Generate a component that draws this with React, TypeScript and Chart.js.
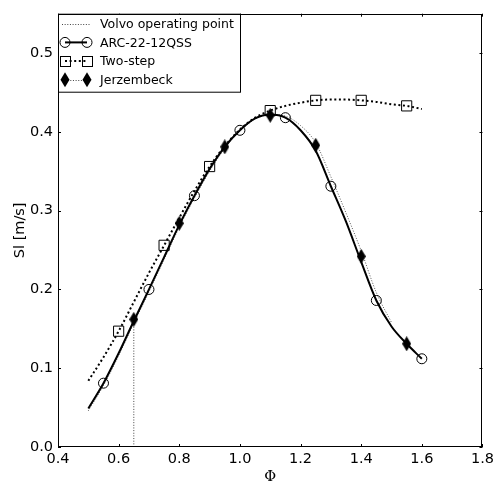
import React, { useEffect, useRef } from "react";
import { Chart, registerables } from "chart.js";

Chart.register(...registerables);

// ---- data ----
const xTickValues = [0.4, 0.6, 0.8, 1.0, 1.2, 1.4, 1.6, 1.8];
const yTickValues = [0.0, 0.1, 0.2, 0.3, 0.4, 0.5];

const volvoPhi = [0.65, 0.65];
const volvoSl = [0.0, 0.162];

const arcPhi = [0.5, 0.55, 0.6, 0.65, 0.7, 0.75, 0.8, 0.85, 0.9, 0.95, 1.0, 1.05, 1.1, 1.15, 1.2, 1.25, 1.3, 1.35, 1.4, 1.45, 1.5, 1.55, 1.6];
const arcSl = [0.049, 0.081, 0.119, 0.16, 0.2, 0.241, 0.282, 0.319, 0.353, 0.381, 0.402, 0.417, 0.422, 0.418, 0.402, 0.376, 0.331, 0.286, 0.235, 0.186, 0.153, 0.131, 0.112];
const arcMarkPhi = [0.55, 0.7, 0.85, 1.0, 1.15, 1.3, 1.45, 1.6];
const arcMarkSl = [0.081, 0.2, 0.319, 0.402, 0.418, 0.331, 0.186, 0.112];

const twoStepPhi = [0.5, 0.55, 0.6, 0.65, 0.7, 0.75, 0.8, 0.85, 0.9, 0.95, 1.0, 1.05, 1.1, 1.15, 1.2, 1.25, 1.3, 1.35, 1.4, 1.45, 1.5, 1.55, 1.6];
const twoStepSl = [0.084, 0.114, 0.147, 0.184, 0.221, 0.256, 0.291, 0.325, 0.356, 0.382, 0.403, 0.418, 0.427, 0.433, 0.437, 0.44, 0.441, 0.441, 0.44, 0.438, 0.435, 0.433, 0.429];
const twoStepMarkPhi = [0.6, 0.75, 0.9, 1.1, 1.25, 1.4, 1.55];
const twoStepMarkSl = [0.147, 0.256, 0.356, 0.427, 0.44, 0.44, 0.433];

const jerzPhi = [0.5, 0.55, 0.6, 0.65, 0.7, 0.75, 0.8, 0.85, 0.9, 0.95, 1.0, 1.05, 1.1, 1.15, 1.2, 1.25, 1.3, 1.35, 1.4, 1.45, 1.5];
const jerzSl = [0.046, 0.078, 0.116, 0.157, 0.197, 0.238, 0.279, 0.316, 0.35, 0.379, 0.401, 0.416, 0.422, 0.42, 0.408, 0.386, 0.343, 0.297, 0.249, 0.196, 0.158];
const jerzMarkPhi = [0.65, 0.8, 0.95, 1.1, 1.25, 1.4, 1.55];
const jerzMarkSl = [0.162, 0.284, 0.381, 0.421, 0.383, 0.242, 0.131];

const legendLabels = ["Volvo operating point", "ARC-22-12QSS", "Two-step", "Jerzembeck"];

const FONT = "'DejaVu Sans', sans-serif";

function pts(xs: number[], ys: number[]) {
  return xs.map((x, i) => ({ x, y: ys[i] }));
}

function makeDiamond(): HTMLCanvasElement {
  const c = document.createElement("canvas");
  c.width = 9;
  c.height = 15;
  const g = c.getContext("2d")!;
  g.fillStyle = "#000";
  g.beginPath();
  g.moveTo(4.5, 0);
  g.lineTo(9, 7.5);
  g.lineTo(4.5, 15);
  g.lineTo(0, 7.5);
  g.closePath();
  g.fill();
  return c;
}

function drawDiamond(ctx: CanvasRenderingContext2D, x: number, y: number) {
  ctx.beginPath();
  ctx.moveTo(x, y - 7.5);
  ctx.lineTo(x + 4.5, y);
  ctx.lineTo(x, y + 7.5);
  ctx.lineTo(x - 4.5, y);
  ctx.closePath();
  ctx.fill();
}

const framePlugin = {
  id: "frameAndLegend",
  afterDraw(chart: any) {
    const { ctx, chartArea } = chart;
    const { left, top, right, bottom } = chartArea;
    ctx.save();
    // inward ticks
    ctx.strokeStyle = "#000";
    ctx.lineWidth = 1;
    const xs = chart.scales.x;
    const ys = chart.scales.y;
    ctx.beginPath();
    xTickValues.forEach((v) => {
      const px = Math.round(xs.getPixelForValue(v)) + 0.5;
      ctx.moveTo(px, bottom);
      ctx.lineTo(px, bottom - 3);
      ctx.moveTo(px, top);
      ctx.lineTo(px, top + 3);
    });
    yTickValues.forEach((v) => {
      const py = Math.round(ys.getPixelForValue(v)) + 0.5;
      ctx.moveTo(left, py);
      ctx.lineTo(left + 3, py);
      ctx.moveTo(right, py);
      ctx.lineTo(right - 3, py);
    });
    ctx.stroke();

    // legend
    const lx = left + 0.5;
    const ly = top + 0.5;
    const lw = 182;
    const lh = 78;
    ctx.fillStyle = "#fff";
    ctx.fillRect(lx, ly, lw, lh);
    ctx.strokeStyle = "#000";
    ctx.lineWidth = 1;
    ctx.strokeRect(lx, ly, lw, lh);

    const sx0 = left + 7;
    const sx1 = left + 29;
    const rowY = (i: number) => top + 10 + i * 18.7;

    // Volvo
    ctx.save();
    ctx.strokeStyle = "#444";
    ctx.lineWidth = 1;
    ctx.setLineDash([1, 1.65]);
    ctx.beginPath();
    ctx.moveTo(sx0 - 3, Math.round(rowY(0)) + 0.5);
    ctx.lineTo(sx1 + 3, Math.round(rowY(0)) + 0.5);
    ctx.stroke();
    ctx.restore();

    // ARC
    ctx.save();
    ctx.strokeStyle = "#000";
    ctx.lineWidth = 2;
    ctx.beginPath();
    ctx.moveTo(sx0, rowY(1));
    ctx.lineTo(sx1, rowY(1));
    ctx.stroke();
    ctx.lineWidth = 1;
    [sx0, sx1].forEach((x) => {
      ctx.beginPath();
      ctx.arc(x, rowY(1), 5, 0, Math.PI * 2);
      ctx.stroke();
    });
    ctx.restore();

    // Two-step
    ctx.save();
    ctx.strokeStyle = "#000";
    ctx.lineWidth = 2;
    ctx.setLineDash([2, 2.6]);
    ctx.beginPath();
    ctx.moveTo(sx0, rowY(2));
    ctx.lineTo(sx1, rowY(2));
    ctx.stroke();
    ctx.setLineDash([]);
    ctx.lineWidth = 1;
    [sx0, sx1].forEach((x) => {
      ctx.strokeRect(Math.round(x - 5) + 0.5, Math.round(rowY(2) - 5) + 0.5, 10, 10);
    });
    ctx.restore();

    // Jerzembeck
    ctx.save();
    ctx.strokeStyle = "#444";
    ctx.lineWidth = 1;
    ctx.setLineDash([1, 1.65]);
    ctx.beginPath();
    ctx.moveTo(sx0, Math.round(rowY(3)) + 0.5);
    ctx.lineTo(sx1, Math.round(rowY(3)) + 0.5);
    ctx.stroke();
    ctx.fillStyle = "#000";
    [sx0, sx1].forEach((x) => drawDiamond(ctx, x, rowY(3)));
    ctx.restore();

    ctx.fillStyle = "#000";
    ctx.font = `12.5px ${FONT}`;
    ctx.textBaseline = "middle";
    ctx.textAlign = "left";
    legendLabels.forEach((t, i) => ctx.fillText(t, left + 42, rowY(i) + 1));

    // frame
    ctx.strokeStyle = "#000";
    ctx.lineWidth = 1;
    ctx.strokeRect(Math.round(left) + 0.5, Math.round(top) + 0.5, Math.round(right - left) - 1, Math.round(bottom - top) - 1);
    ctx.restore();
  },
};

export default function App() {
  const ref = useRef<HTMLCanvasElement | null>(null);

  useEffect(() => {
    if (!ref.current) return;
    const diamond = makeDiamond();
    const chart = new Chart(ref.current, {
      type: "line",
      data: {
        datasets: [
          {
            label: legendLabels[0],
            data: pts(volvoPhi, volvoSl),
            borderColor: "#444",
            borderWidth: 1,
            borderDash: [1, 1.65],
            pointRadius: 0,
            order: 5,
          },
          {
            label: legendLabels[1],
            data: pts(arcPhi, arcSl),
            borderColor: "#000",
            borderWidth: 2,
            pointRadius: 0,
            cubicInterpolationMode: "monotone",
            order: 4,
          },
          {
            label: legendLabels[1] + " markers",
            data: pts(arcMarkPhi, arcMarkSl),
            showLine: false,
            pointStyle: "circle",
            pointRadius: 5,
            pointBorderWidth: 1,
            pointBorderColor: "#000",
            pointBackgroundColor: "rgba(0,0,0,0)",
            order: 4,
          },
          {
            label: legendLabels[2],
            data: pts(twoStepPhi, twoStepSl),
            borderColor: "#000",
            borderWidth: 2,
            borderDash: [2, 2.6],
            pointRadius: 0,
            cubicInterpolationMode: "monotone",
            order: 3,
          },
          {
            label: legendLabels[2] + " markers",
            data: pts(twoStepMarkPhi, twoStepMarkSl),
            showLine: false,
            pointStyle: "rect",
            pointRadius: 7.2,
            pointBorderWidth: 1,
            pointBorderColor: "#000",
            pointBackgroundColor: "rgba(0,0,0,0)",
            order: 3,
          },
          {
            label: legendLabels[3],
            data: pts(jerzPhi, jerzSl),
            borderColor: "#555",
            borderWidth: 1,
            borderDash: [1, 1.65],
            pointRadius: 0,
            cubicInterpolationMode: "monotone",
            order: 6,
          },
          {
            label: legendLabels[3] + " markers",
            data: pts(jerzMarkPhi, jerzMarkSl),
            showLine: false,
            pointStyle: diamond,
            pointRadius: 7,
            order: 2,
          },
        ],
      },
      options: {
        animation: false,
        responsive: false,
        devicePixelRatio: 1,
        parsing: true,
        layout: { padding: { top: 7, right: 13, left: 0, bottom: 0 } },
        plugins: {
          legend: { display: false },
          tooltip: { enabled: false },
        },
        scales: {
          x: {
            type: "linear",
            min: 0.4,
            max: 1.8,
            grid: { display: false, drawTicks: false },
            border: { display: false },
            afterFit: (s: any) => {
              s.height = 36;
            },
            afterBuildTicks: (s: any) => {
              s.ticks = xTickValues.map((v) => ({ value: v }));
            },
            ticks: {
              color: "#000",
              padding: 4,
              maxRotation: 0,
              autoSkip: false,
              font: { family: FONT, size: 14.5 },
              callback: (v: any) => Number(v).toFixed(1),
            },
            title: {
              display: true,
              text: "\u03A6",
              color: "#000",
              font: { family: "'DejaVu Serif', serif", size: 14.5, lineHeight: 1 },
              padding: { top: 0, bottom: -1 },
            },
          },
          y: {
            type: "linear",
            min: 0,
            max: 0.55,
            grid: { display: false, drawTicks: false },
            border: { display: false },
            afterFit: (s: any) => {
              s.width = 58;
            },
            afterBuildTicks: (s: any) => {
              s.ticks = yTickValues.map((v) => ({ value: v }));
            },
            ticks: {
              color: "#000",
              padding: 5,
              autoSkip: false,
              font: { family: FONT, size: 14.5 },
              callback: (v: any) => Number(v).toFixed(1),
            },
            title: {
              display: true,
              text: "Sl [m/s]",
              color: "#000",
              font: { family: FONT, size: 14.5, lineHeight: 1 },
              padding: { top: 13, bottom: 0 },
            },
          },
        },
      },
      plugins: [framePlugin],
    } as any);
    return () => chart.destroy();
  }, []);

  return (
    <div style={{ position: "absolute", left: 0, top: 0, width: 498, height: 483, background: "#fff" }}>
      <canvas ref={ref} width={498} height={483} style={{ display: "block", width: 498, height: 483 }} />
    </div>
  );
}
